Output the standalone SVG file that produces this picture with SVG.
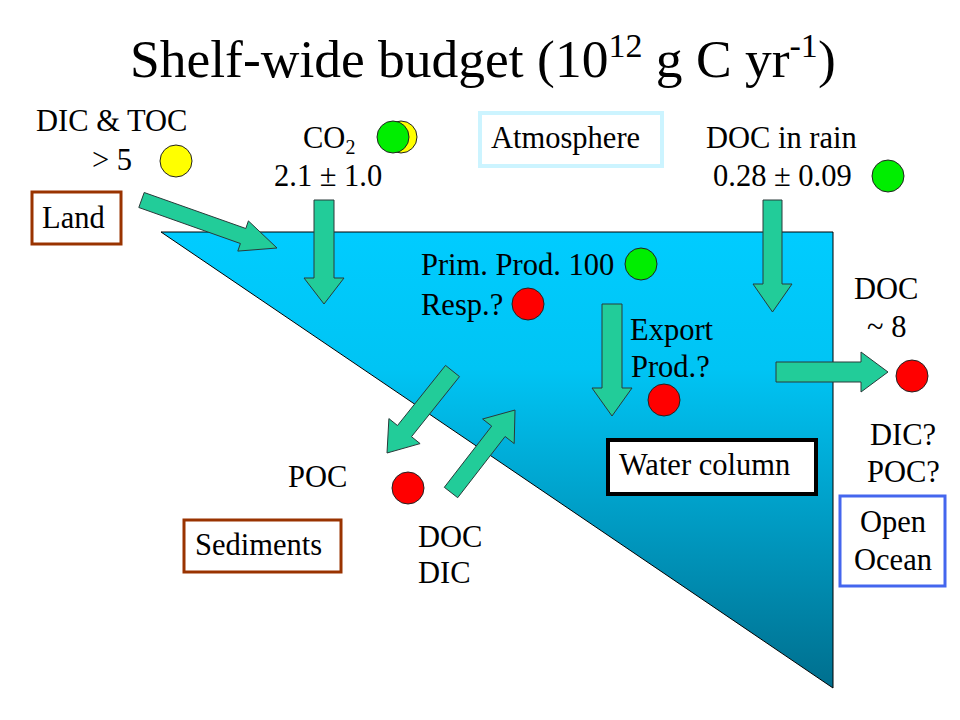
<svg xmlns="http://www.w3.org/2000/svg" width="960" height="720" viewBox="0 0 960 720">
<defs>
<linearGradient id="sea" x1="0" y1="232" x2="0" y2="688" gradientUnits="userSpaceOnUse">
<stop offset="0" stop-color="#00ccff"/>
<stop offset="0.3" stop-color="#00c4f4"/>
<stop offset="1" stop-color="#006f8e"/>
</linearGradient>
</defs>
<style>
text{font-size:30.5px;fill:#000}
.arrow{fill:#22cc99;stroke:#2a3a3a;stroke-width:1}
.dot{stroke:#222;stroke-width:1}
.y{fill:#ffff00}.g{fill:#00ee00}.r{fill:#ff0000}
.box{fill:#fff}
</style>
<rect width="960" height="720" fill="#fff"/>
<g font-family="'Liberation Serif', 'Times New Roman', serif">
<text x="130" y="77" style="font-size:53.5px">Shelf-wide budget (10<tspan dy="-20" style="font-size:34px">12</tspan><tspan dy="20"> g C yr</tspan><tspan dy="-20" style="font-size:34px">-1</tspan><tspan dy="20">)</tspan></text>

<g id="shelf">
<polygon points="161,232 833,232 833,688" fill="url(#sea)" stroke="#000" stroke-width="1"/>
</g>

<g id="connectors">
<polygon class="arrow" points="144.2,192.5 245.8,228.5 248.4,220.9 277,248 237.8,251.1 240.4,243.5 138.8,207.5"/>
<polygon class="arrow" points="314,200 334,200 334,278 344,278 324,304 304,278 314,278"/>
<polygon class="arrow" points="763,200 782,200 782,284 792,284 772.5,312 753,284 763,284"/>
<polygon class="arrow" points="602,304 622,304 622,388 632,388 612,416 592,388 602,388"/>
<polygon class="arrow" points="776,362 861,362 861,352 888,372 861,392 861,382 776,382"/>
<polygon class="arrow" points="445.5,365.4 459.5,376.6 411.5,436.7 420.1,443.6 387,453 388.9,418.6 397.5,425.5"/>
<polygon class="arrow" points="444.3,487.3 491.7,426.1 482.6,419 515,410 514.2,443.6 505.1,436.5 457.7,497.7"/>
</g>

<g id="land">
<rect x="32" y="192" width="89" height="52" class="box" stroke="#993300" stroke-width="3"/>
<text x="42" y="228">Land</text>
</g>
<g id="land-flux">
<text x="36" y="131">DIC &amp; TOC</text>
<text x="92" y="170">&gt; 5</text>
<circle class="dot y" cx="176" cy="161" r="16"/>
</g>
<g id="co2">
<text x="303" y="148">CO<tspan dy="6" style="font-size:20px">2</tspan></text>
<text x="274" y="186">2.1 ± 1.0</text>
<circle class="dot y" cx="401" cy="137" r="16"/>
<circle class="dot g" cx="393" cy="137" r="16"/>
</g>
<g id="atmosphere">
<rect x="480" y="113" width="182" height="53" class="box" stroke="#ccf4ff" stroke-width="4"/>
<text x="491" y="148">Atmosphere</text>
</g>
<g id="rain">
<text x="706" y="148">DOC in rain</text>
<text x="713" y="186">0.28 ± 0.09</text>
<circle class="dot g" cx="888" cy="176" r="16"/>
</g>
<g id="production">
<text x="421" y="275">Prim. Prod. 100</text>
<circle class="dot g" cx="641" cy="264" r="16"/>
<text x="421" y="315">Resp.?</text>
<circle class="dot r" cx="528" cy="304" r="16"/>
</g>
<g id="export">
<text x="630" y="340">Export</text>
<text x="631" y="377">Prod.?</text>
<circle class="dot r" cx="664" cy="400" r="16"/>
</g>
<g id="doc-out">
<text x="854" y="299">DOC</text>
<text x="867" y="337">~ 8</text>
<circle class="dot r" cx="912" cy="376" r="16"/>
<text x="870" y="445">DIC?</text>
<text x="867" y="482">POC?</text>
</g>
<g id="water-column">
<rect x="608" y="440" width="208" height="54" class="box" stroke="#000" stroke-width="4"/>
<text x="619" y="475">Water column</text>
</g>
<g id="open-ocean">
<rect x="840" y="496" width="105" height="90" class="box" stroke="#4466ee" stroke-width="3"/>
<text x="893" y="532" text-anchor="middle">Open</text>
<text x="893" y="570" text-anchor="middle">Ocean</text>
</g>
<g id="poc">
<text x="288" y="487">POC</text>
<circle class="dot r" cx="408" cy="488" r="16"/>
</g>
<g id="sediments">
<rect x="184" y="520" width="157" height="52" class="box" stroke="#993300" stroke-width="3"/>
<text x="195" y="555">Sediments</text>
</g>
<g id="sed-flux">
<text x="418" y="547">DOC</text>
<text x="418" y="583">DIC</text>
</g>
</g>
</svg>
